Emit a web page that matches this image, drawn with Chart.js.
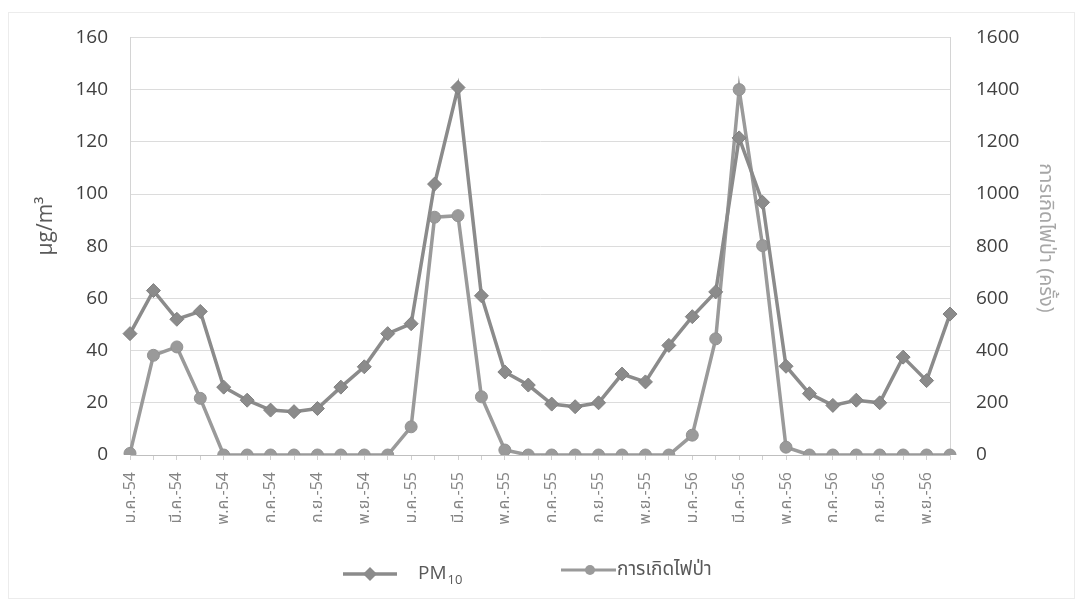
<!DOCTYPE html>
<html>
<head>
<meta charset="utf-8">
<script src="https://cdn.jsdelivr.net/npm/chart.js@4/dist/chart.umd.min.js"></script>
<style>
  html, body { margin: 0; padding: 0; background: #fff; }
  #wrap { position: relative; width: 1084px; height: 605px; }
  canvas { display: block; }
</style>
</head>
<body>
<div id="wrap"><canvas id="c" width="1084" height="605"></canvas></div>
<script>
const categories = [
  'ม.ค.-54','ก.พ.-54','มี.ค.-54','เม.ย.-54','พ.ค.-54','มิ.ย.-54','ก.ค.-54','ส.ค.-54','ก.ย.-54','ต.ค.-54','พ.ย.-54','ธ.ค.-54',
  'ม.ค.-55','ก.พ.-55','มี.ค.-55','เม.ย.-55','พ.ค.-55','มิ.ย.-55','ก.ค.-55','ส.ค.-55','ก.ย.-55','ต.ค.-55','พ.ย.-55','ธ.ค.-55',
  'ม.ค.-56','ก.พ.-56','มี.ค.-56','เม.ย.-56','พ.ค.-56','มิ.ย.-56','ก.ค.-56','ส.ค.-56','ก.ย.-56','ต.ค.-56','พ.ย.-56','ธ.ค.-56'
];
const pm10 = [
  46.5, 63, 52, 55, 26, 21, 17.2, 16.6, 17.8, 26, 33.8, 46.5,
  50.3, 103.8, 140.8, 61, 31.8, 26.8, 19.5, 18.5, 20, 31, 28, 42,
  53, 62.5, 121.5, 96.8, 34, 23.5, 19, 21, 20, 37.5, 28.5, 54
];
const fires = [
  6, 382, 414, 217, 0, 0, 0, 0, 0, 0, 0, 0,
  108, 911, 917, 223, 19, 0, 0, 0, 0, 0, 0, 0,
  76, 445, 1400, 802, 30, 0, 0, 0, 0, 0, 0, 0
];
const leftTicks = [0, 20, 40, 60, 80, 100, 120, 140, 160];
const rightTicks = [0, 200, 400, 600, 800, 1000, 1200, 1400, 1600];
const seriesNames = ['PM', 'การเกิดไฟป่า'];
const leftTitle = 'µg/m³';
const rightTitle = 'การเกิดไฟป่า (ครั้ง)';

const FONT = "'Open Sans', 'Noto Sans', 'Noto Sans Thai', Tahoma, sans-serif";
const C_PM = '#8b8b8b';
const C_FIRE = '#9a9a9a';

const decorPlugin = {
  id: 'decor',
  afterDraw(chart) {
    const ctx = chart.ctx;
    ctx.save();
    ctx.strokeStyle = '#ececec';
    ctx.lineWidth = 1;
    ctx.strokeRect(8.5, 12.5, 1066, 586);
    ctx.textAlign = 'center';
    ctx.textBaseline = 'middle';
    ctx.save();
    ctx.translate(46, 226);
    ctx.rotate(-Math.PI / 2);
    ctx.fillStyle = '#595959';
    ctx.font = '21px ' + FONT;
    ctx.fillText(leftTitle, 0, 0);
    ctx.restore();
    ctx.save();
    ctx.translate(1046, 238);
    ctx.rotate(Math.PI / 2);
    ctx.fillStyle = '#a6a6a6';
    ctx.font = '20px ' + FONT;
    ctx.fillText(rightTitle, 0, 0);
    ctx.restore();
    ctx.textAlign = 'left';
    let y = 574;
    ctx.strokeStyle = C_PM; ctx.lineWidth = 3.5;
    ctx.beginPath(); ctx.moveTo(343, y); ctx.lineTo(397, y); ctx.stroke();
    ctx.fillStyle = C_PM;
    ctx.beginPath(); ctx.moveTo(370, y - 7); ctx.lineTo(377, y); ctx.lineTo(370, y + 7); ctx.lineTo(363, y); ctx.closePath(); ctx.fill();
    ctx.fillStyle = '#595959';
    ctx.font = '19px ' + FONT;
    ctx.fillText(seriesNames[0], 418, y);
    const w = ctx.measureText(seriesNames[0]).width;
    ctx.font = '13px ' + FONT;
    ctx.fillText('10', 418 + w + 1, y + 6);
    y = 570;
    ctx.strokeStyle = C_FIRE; ctx.lineWidth = 3;
    ctx.beginPath(); ctx.moveTo(561, y); ctx.lineTo(616, y); ctx.stroke();
    ctx.fillStyle = C_FIRE;
    ctx.beginPath(); ctx.arc(590, y, 5, 0, Math.PI * 2); ctx.fill();
    ctx.fillStyle = '#595959';
    ctx.font = '19px ' + FONT;
    ctx.fillText(seriesNames[1], 617, y);
    ctx.restore();
  }
};

new Chart(document.getElementById('c'), {
  type: 'line',
  data: {
    labels: categories,
    datasets: [
      {
        label: 'PM10',
        data: pm10,
        yAxisID: 'y',
        borderColor: C_PM,
        backgroundColor: C_PM,
        borderWidth: 3.5,
        pointStyle: 'rectRot',
        pointRadius: 7,
        pointBorderWidth: 1,
        pointBorderColor: '#808080',
        tension: 0
      },
      {
        label: seriesNames[1],
        data: fires,
        yAxisID: 'y1',
        borderColor: C_FIRE,
        backgroundColor: C_FIRE,
        borderWidth: 3.5,
        pointStyle: 'circle',
        pointRadius: 6,
        pointBorderWidth: 1,
        pointBorderColor: '#929292',
        tension: 0
      }
    ]
  },
  options: {
    responsive: false,
    animation: false,
    events: [],
    layout: { autoPadding: false, padding: { top: 36, left: 0, right: 0, bottom: 0 } },
    plugins: { legend: { display: false }, tooltip: { enabled: false } },
    scales: {
      x: {
        offset: false,
        grid: { display: true, drawOnChartArea: false, drawTicks: true, tickLength: 5, color: '#d0d0d0' },
        border: { display: true, color: '#bfbfbf', width: 1 },
        ticks: {
          autoSkip: false,
          maxRotation: 90,
          minRotation: 90,
          padding: 12,
          color: '#858585',
          font: { family: FONT, size: 16 },
          callback: function(v, i) { return i % 2 === 0 ? categories[i] : ''; }
        },
        afterFit(scale) { scale.height = 150; }
      },
      y: {
        position: 'left',
        min: 0, max: 160,
        afterBuildTicks(scale) { scale.ticks = leftTicks.map(v => ({ value: v })); },
        grid: { color: '#dcdcdc', drawTicks: false, lineWidth: 1 },
        border: { display: true, color: '#d4d4d4' },
        ticks: { padding: 22, color: '#404040', font: { family: FONT, size: 19 }, callback: v => String(v) },
        afterFit(scale) { scale.width = 130; }
      },
      y1: {
        position: 'right',
        min: 0, max: 1600,
        afterBuildTicks(scale) { scale.ticks = rightTicks.map(v => ({ value: v })); },
        grid: { drawOnChartArea: false, drawTicks: false },
        border: { display: true, color: '#d4d4d4' },
        ticks: { padding: 26, color: '#404040', font: { family: FONT, size: 19 }, callback: v => String(v) },
        afterFit(scale) { scale.width = 134; }
      }
    }
  },
  plugins: [decorPlugin]
});
</script>
</body>
</html>
